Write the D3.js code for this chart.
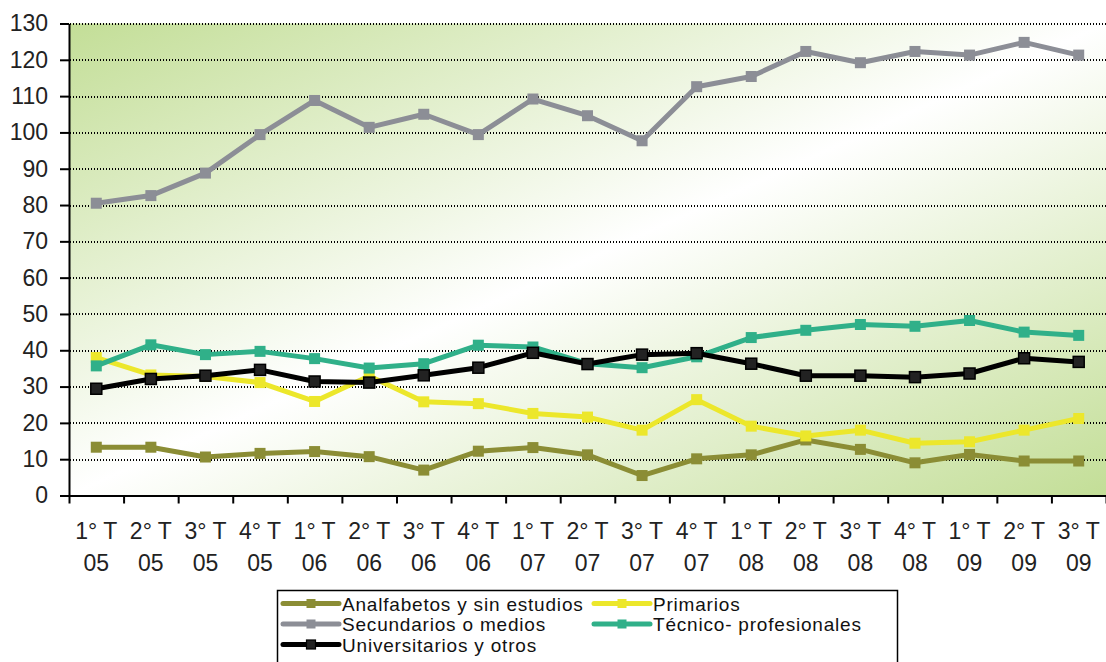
<!DOCTYPE html>
<html>
<head>
<meta charset="utf-8">
<script src="https://cdn.jsdelivr.net/npm/d3@7"></script>
<style>
  body { margin: 0; background: #fff; }
  svg { display: block; font-family: "Liberation Sans", Arial, sans-serif; }
  .axis path, .axis line { stroke: #000; stroke-width: 2; }
  .grid line { stroke: #000; stroke-width: 2; stroke-dasharray: 1 2; shape-rendering: crispEdges; }
</style>
</head>
<body>
<div id="chart-div"></div>
<script>
// quarter labels (two lines each)
var quarters = ["1° T", "2° T", "3° T", "4° T", "1° T", "2° T", "3° T", "4° T", "1° T", "2° T",
                "3° T", "4° T", "1° T", "2° T", "3° T", "4° T", "1° T", "2° T", "3° T"];
var years = ["05", "05", "05", "05", "06", "06", "06", "06", "07", "07",
             "07", "07", "08", "08", "08", "08", "09", "09", "09"];

var yTicks = [0, 10, 20, 30, 40, 50, 60, 70, 80, 90, 100, 110, 120, 130];

var analfabetos = [13.3, 13.3, 10.6, 11.6, 12.1, 10.7, 7.0, 12.2, 13.2, 11.2,
                   5.5, 10.1, 11.2, 15.3, 12.7, 9.0, 11.3, 9.5, 9.5];
var primarios = [38.0, 33.2, 32.8, 31.1, 25.9, 32.9, 25.8, 25.3, 22.6, 21.6,
                 18.0, 26.4, 19.1, 16.4, 18.0, 14.4, 14.8, 18.0, 21.2];
var secundarios = [80.5, 82.6, 88.8, 99.4, 108.8, 101.4, 105.0, 99.4, 109.2, 104.6,
                   97.7, 112.6, 115.4, 122.3, 119.2, 122.3, 121.3, 124.8, 121.3];
var tecnicos = [35.7, 41.5, 38.8, 39.7, 37.7, 35.1, 36.3, 41.4, 40.9, 36.3,
                35.2, 38.2, 43.5, 45.5, 47.1, 46.6, 48.2, 45.0, 44.1];
var universitarios = [29.4, 32.1, 33.0, 34.6, 31.4, 31.1, 33.1, 35.2, 39.3, 36.2,
                      38.8, 39.2, 36.3, 33.0, 33.0, 32.6, 33.6, 37.8, 36.8];

var seriesNames = ["Analfabetos y sin estudios", "Primarios", "Secundarios o medios",
                   "Técnico- profesionales", "Universitarios y otros"];
var seriesValues = [analfabetos, primarios, secundarios, tecnicos, universitarios];
var seriesColors = ["#8b8d35", "#ece72b", "#8c8e96", "#30b089", "#000000"];
var markerFill = ["#8b8d35", "#ece72b", "#8c8e96", "#30b089", "#222222"];

var margin = { top: 23.5, left: 69 };
var width = 1037, height = 472;

var svg = d3.select("#chart-div").append("svg")
  .attr("width", 1106)
  .attr("height", 662);

var defs = svg.append("defs");
var grad = defs.append("linearGradient")
  .attr("id", "bg")
  .attr("x1", 0).attr("y1", 0).attr("x2", 1).attr("y2", 1);
grad.append("stop").attr("offset", 0).attr("stop-color", "#c3de97");
grad.append("stop").attr("offset", 0.5).attr("stop-color", "#ffffff");
grad.append("stop").attr("offset", 1).attr("stop-color", "#c3de97");

var g = svg.append("g")
  .attr("transform", "translate(" + margin.left + "," + margin.top + ")");

var x = d3.scaleBand().domain(d3.range(quarters.length)).range([0, width]).padding(0);
var xEdges = d3.scaleLinear().domain([0, quarters.length]).range([0, width]);
var y = d3.scaleLinear().domain([0, 130]).range([height, 0]);

g.append("rect")
  .attr("width", width)
  .attr("height", height)
  .attr("fill", "url(#bg)");

// dotted grid lines
g.append("g").attr("class", "grid")
  .selectAll("line")
  .data(yTicks.filter(function(d) { return d > 0; }))
  .enter().append("line")
  .attr("x1", 1).attr("x2", width)
  .attr("y1", function(d) { return Math.round(y(d)) + 0.5; })
  .attr("y2", function(d) { return Math.round(y(d)) + 0.5; });

// y axis
var yAxis = g.append("g").attr("class", "axis")
  .call(d3.axisLeft(y).tickValues(yTicks).tickSize(9).tickSizeOuter(0).tickPadding(12));
yAxis.selectAll("text")
  .attr("font-size", 23)
  .attr("fill", "#222")
  .attr("font-family", "Liberation Sans, Arial, sans-serif");

// x axis, ticks at category edges
var xAxis = g.append("g").attr("class", "axis")
  .attr("transform", "translate(0," + height + ")")
  .call(d3.axisBottom(xEdges).tickValues(d3.range(quarters.length + 1))
    .tickSize(8).tickSizeOuter(0).tickFormat(""));

var labels = g.append("g").selectAll("text")
  .data(quarters)
  .enter().append("text")
  .attr("text-anchor", "middle")
  .attr("font-size", 23)
  .attr("fill", "#222")
  .attr("transform", function(d, i) {
    return "translate(" + (x(i) + x.bandwidth() / 2) + "," + (height + 43) + ")";
  });
labels.append("tspan").attr("x", 0).attr("y", 0).text(function(d) { return d; });
labels.append("tspan").attr("x", 0).attr("y", 32).text(function(d, i) { return years[i]; });

// lines and markers
var line = d3.line()
  .x(function(d, i) { return x(i) + x.bandwidth() / 2; })
  .y(function(d) { return y(d); });

seriesValues.forEach(function(vals, s) {
  var sg = g.append("g");
  sg.append("path")
    .datum(vals)
    .attr("d", line)
    .attr("fill", "none")
    .attr("stroke", seriesColors[s])
    .attr("stroke-width", 5)
    .attr("stroke-linejoin", "round");
  sg.selectAll("rect")
    .data(vals)
    .enter().append("rect")
    .attr("x", function(d, i) { return x(i) + x.bandwidth() / 2 - 5.5; })
    .attr("y", function(d) { return y(d) - 5.5; })
    .attr("width", 11)
    .attr("height", 11)
    .attr("fill", markerFill[s])
    .attr("stroke", s === 4 ? "#000" : "none")
    .attr("stroke-width", 1.5);
});

// legend
var legend = svg.append("g");
legend.append("rect")
  .attr("x", 277.5).attr("y", 590.5)
  .attr("width", 620).attr("height", 80)
  .attr("fill", "#fff")
  .attr("stroke", "#000")
  .attr("stroke-width", 1.5);

var legendPos = [
  { x: 283, y: 603.5 }, { x: 594, y: 603.5 },
  { x: 283, y: 624 }, { x: 594, y: 624 },
  { x: 283, y: 644.5 }
];

seriesNames.forEach(function(name, s) {
  var p = legendPos[s];
  legend.append("line")
    .attr("x1", p.x).attr("x2", p.x + 56)
    .attr("y1", p.y).attr("y2", p.y)
    .attr("stroke", seriesColors[s])
    .attr("stroke-width", 5)
    .attr("stroke-linecap", "round");
  legend.append("rect")
    .attr("x", p.x + 28 - 4.5).attr("y", p.y - 4.5)
    .attr("width", 9).attr("height", 9)
    .attr("fill", markerFill[s])
    .attr("stroke", s === 4 ? "#000" : "none")
    .attr("stroke-width", 1.2);
  legend.append("text")
    .attr("x", p.x + 59)
    .attr("y", p.y + 7)
    .attr("font-size", 19)
    .attr("letter-spacing", 0.8)
    .attr("fill", "#111")
    .text(name);
});
</script>
</body>
</html>
